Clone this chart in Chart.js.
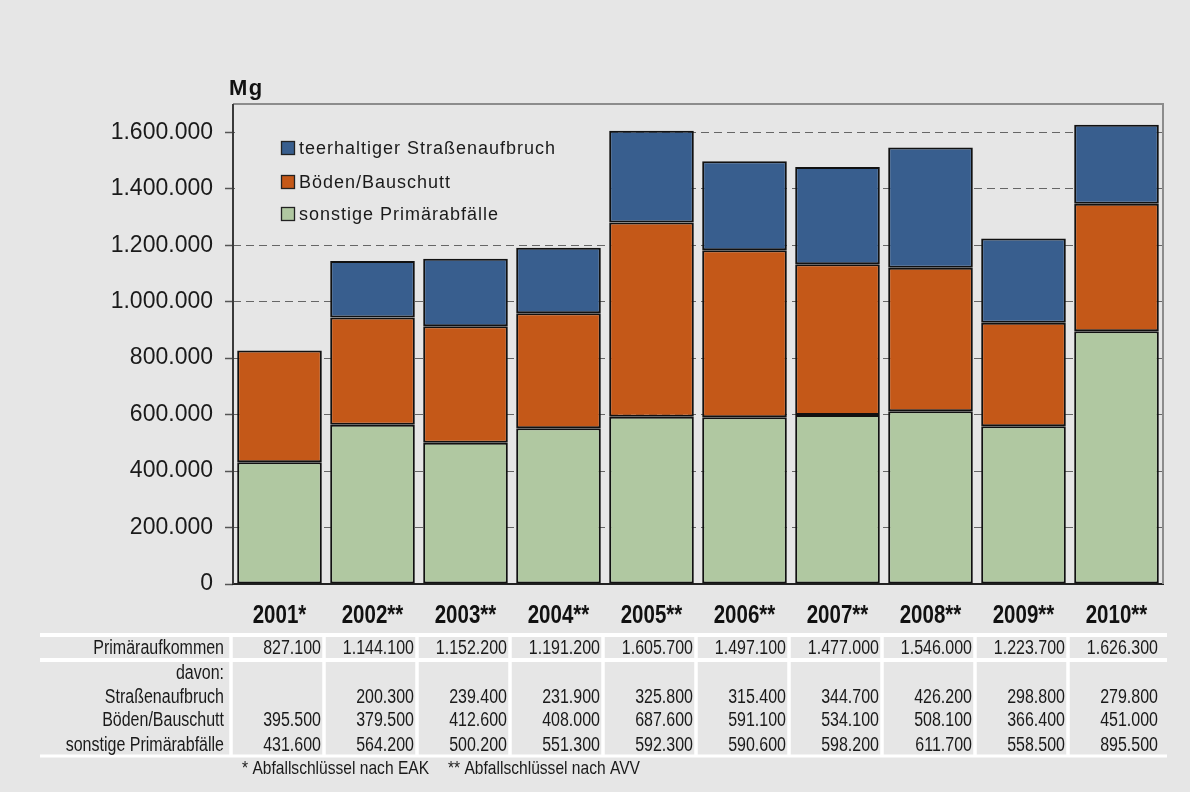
<!DOCTYPE html>
<html>
<head>
<meta charset="utf-8">
<script src="https://cdn.jsdelivr.net/npm/chart.js@4/dist/chart.umd.min.js"></script>
<style>
  html, body { margin: 0; padding: 0; background: #e6e6e6; }
  #wrap { width: 1190px; height: 792px; }
</style>
</head>
<body>
<div id="wrap"><canvas id="myChart" width="1190" height="792"></canvas></div>
<script>
// Primäraufkommen in Mg, 2001-2010
const years = ['2001*', '2002**', '2003**', '2004**', '2005**', '2006**', '2007**', '2008**', '2009**', '2010**'];
const strassen = [null, 200300, 239400, 231900, 325800, 315400, 344700, 426200, 298800, 279800];
const boeden = [395500, 379500, 412600, 408000, 687600, 591100, 534100, 508100, 366400, 451000];
const sonstige = [431600, 564200, 500200, 551300, 592300, 590600, 598200, 611700, 558500, 895500];
const gesamt = [827100, 1144100, 1152200, 1191200, 1605700, 1497100, 1477000, 1546000, 1223700, 1626300];
const yTicks = [0, 200000, 400000, 600000, 800000, 1000000, 1200000, 1400000, 1600000];

const seriesNames = ['teerhaltiger Straßenaufbruch', 'Böden/Bauschutt', 'sonstige Primärabfälle'];
const seriesColors = ['#385e8e', '#c45818', '#b0c8a1'];
const rowLabels = ['Primäraufkommen', 'davon:', 'Straßenaufbruch', 'Böden/Bauschutt', 'sonstige Primärabfälle'];
const footnotes = ['* Abfallschlüssel nach EAK', '** Abfallschlüssel nach AVV'];

const sans = '"Liberation Sans", Arial, sans-serif';

function fmt(v) {
  if (v === null || v === undefined) return '';
  return String(v).replace(/\B(?=(\d{3})+(?!\d))/g, '.');
}

// narrow text: Liberation Sans squeezed horizontally
function narrowText(c, txt, x, y, align, sx) {
  c.save();
  c.translate(x, y);
  c.scale(sx || 0.8, 1);
  c.textAlign = align;
  c.fillText(txt, 0, 0);
  c.restore();
}

const canvas = document.getElementById('myChart');
const ctx = canvas.getContext('2d');

const decorPlugin = {
  id: 'decor',
  beforeDatasetsDraw(chart) {
    const c = chart.ctx;
    const a = chart.chartArea;
    c.save();
    // legend sits on a plain patch over the grid
    c.fillStyle = '#e6e6e6';
    c.fillRect(a.left + 2, a.top + 2, 372, 128);
    const rows = [148, 182, 214];
    c.font = '18px ' + sans;
    c.letterSpacing = '1px';
    c.textBaseline = 'middle';
    for (let i = 0; i < 3; i++) {
      c.fillStyle = seriesColors[i];
      c.fillRect(281.5, rows[i] - 6.5, 13, 13);
      c.strokeStyle = '#222';
      c.lineWidth = 1.3;
      c.strokeRect(281.5, rows[i] - 6.5, 13, 13);
      c.fillStyle = '#1a1a1a';
      c.fillText(seriesNames[i], 299, rows[i] + 1);
    }
    c.restore();
  },
  afterDraw(chart) {
    const c = chart.ctx;
    const a = chart.chartArea;
    const x = chart.scales.x;
    const cw = (a.right - a.left) / years.length;
    c.save();
    // plot frame: grey top/right, dark value axis on the left
    c.strokeStyle = '#8c8c8c';
    c.lineWidth = 2;
    c.beginPath();
    c.moveTo(a.left, a.top);
    c.lineTo(a.right, a.top);
    c.lineTo(a.right, a.bottom);
    c.stroke();
    c.strokeStyle = '#3a3a3a';
    c.beginPath();
    c.moveTo(a.left, a.top);
    c.lineTo(a.left, a.bottom);
    c.stroke();

    // unit
    c.fillStyle = '#111';
    c.font = 'bold 22px ' + sans;
    c.letterSpacing = '1.5px';
    c.textBaseline = 'middle';
    c.fillText('Mg', 229, 89);
    c.letterSpacing = '0px';

    // year labels under the bars
    c.font = 'bold 25px ' + sans;
    for (let i = 0; i < years.length; i++) {
      narrowText(c, years[i], x.getPixelForValue(i), 616, 'center', 0.82);
    }

    // data table
    c.strokeStyle = '#ffffff';
    c.lineWidth = 4;
    [635, 660].forEach(y => {
      c.beginPath();
      c.moveTo(40, y);
      c.lineTo(1167, y);
      c.stroke();
    });
    c.lineWidth = 3;
    c.beginPath();
    c.moveTo(40, 756);
    c.lineTo(1167, 756);
    c.stroke();
    c.lineWidth = 3.5;
    for (let i = 0; i < years.length; i++) {
      const bx = a.left + i * cw - 2;
      c.beginPath();
      c.moveTo(bx, 635);
      c.lineTo(bx, 756);
      c.stroke();
    }

    c.fillStyle = '#1a1a1a';
    c.font = '20px ' + sans;
    const rowY = [648, 673, 697, 720, 745];
    rowLabels.forEach((t, k) => narrowText(c, t, 224, rowY[k], 'right', 0.8));
    const rows = [gesamt, null, strassen, boeden, sonstige];
    for (let i = 0; i < years.length; i++) {
      const rx = a.left + (i + 1) * cw - 5;
      rows.forEach((r, k) => {
        if (r) narrowText(c, fmt(r[i]), rx, rowY[k], 'right', 0.8);
      });
    }
    c.font = '19px ' + sans;
    narrowText(c, footnotes[0], 242, 769, 'left', 0.82);
    narrowText(c, footnotes[1], 448, 769, 'left', 0.82);
    c.restore();
  }
};

const myChart = new Chart(ctx, {
  type: 'bar',
  data: {
    labels: years,
    datasets: [
      { label: seriesNames[2], data: sonstige, backgroundColor: seriesColors[2] },
      { label: seriesNames[1], data: boeden, backgroundColor: seriesColors[1] },
      { label: seriesNames[0], data: strassen, backgroundColor: seriesColors[0] }
    ].map(d => Object.assign(d, {
      borderColor: '#111',
      borderWidth: 2,
      borderSkipped: false,
      categoryPercentage: 1,
      barPercentage: 0.91
    }))
  },
  options: {
    responsive: false,
    animation: false,
    layout: { padding: { left: 0, top: 104, right: 27, bottom: 158 } },
    plugins: {
      legend: { display: false },
      tooltip: { enabled: false }
    },
    scales: {
      x: {
        stacked: true,
        afterFit: s => { s.height = 50; },
        grid: { display: false },
        border: { display: true, color: '#222', width: 2 },
        ticks: { display: false }
      },
      y: {
        stacked: true,
        min: 0,
        max: 1700000,
        afterFit: s => { s.width = 233; },
        afterBuildTicks: s => { s.ticks = yTicks.map(v => ({ value: v })); },
        // grid lines take their dash from border.dash in v4
        border: { display: false, dash: [8, 5] },
        grid: {
          color: c => (c.tick && c.tick.value === 0) ? 'rgba(0,0,0,0)' : '#666',
          lineWidth: 1,
          tickLength: 8,
          tickColor: '#555',
          tickBorderDash: [],
          tickWidth: 1.5,
          drawTicks: true
        },
        ticks: {
          color: '#1a1a1a',
          padding: 12,
          font: { family: sans, size: 23 },
          callback: v => fmt(v)
        }
      }
    }
  },
  plugins: [decorPlugin]
});
</script>
</body>
</html>
